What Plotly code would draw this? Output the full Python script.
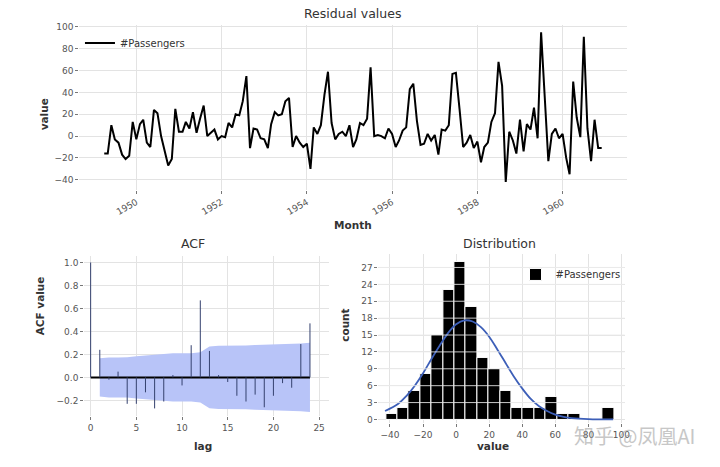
import pandas as pd
import plotly.graph_objects as go

# residuals of the airline passengers model, monthly from Apr 1949
residual = [
    -16, -16, 10, -3, -6, -17, -21, -18, 13, -3, 11, 15, -6, -10, 24, 21, 0, -13, -27, -21,
    25, 4, 4, 13, 7, 22, 3, 16, 28, 0, 3, 6, -3, 0, -1, 12, 8, 20, 19, 32,
    55, -11, 7, 6, -2, -3, -11, 11, 22, 19, 20, 32, 35, -10, 0, -6, -10, -7, -30, 8,
    2, 10, 38, 59, 12, -3, 2, 4, 0, 10, -10, -3, 12, 10, 16, 63, 0, 1, 0, -2,
    7, 2, -10, -4, 5, 8, 43, 48, 14, -8, -7, 2, -4, 1, -17, 6, 5, 10, 57, 58,
    25, -10, -6, 1, -11, -5, -24, -10, -6, 13, 21, 68, 46, -42, 4, -4, -16, 15, -14, 11,
    6, 26, -2, 95, 36, -23, 2, 7, -2, 2, -20, -35, 50, 17, -1, 91, 7, -23, 15, -11,
    -11,
]
months = pd.date_range("1949-04-01", periods=len(residual), freq="MS")

acf_lags = list(range(25))
acf_values = [1.0, 0.24, -0.02, 0.05, -0.23, -0.23, -0.13, -0.27, -0.21, 0.02, -0.07, 0.28, 0.67,
              0.23, 0.02, -0.04, -0.16, -0.21, -0.15, -0.26, -0.16, -0.05, -0.09, 0.29, 0.47]
conf_lags = list(range(1, 25))
conf_upper = [0.167, 0.174, 0.174, 0.175, 0.183, 0.190, 0.193, 0.203, 0.209, 0.209, 0.210, 0.219,
              0.269, 0.275, 0.275, 0.275, 0.277, 0.282, 0.284, 0.290, 0.293, 0.293, 0.294, 0.301]
conf_lower = [-v for v in conf_upper]

hist_left = [-42.4, -35.5, -28.6, -21.7, -14.8, -7.9, -1.0, 5.9, 12.8, 19.7,
             26.6, 33.5, 40.4, 47.3, 54.2, 61.1, 68.0, 74.9, 81.8, 88.7]
hist_counts = [1, 2, 5, 8, 15, 23, 28, 20, 11, 9, 5, 2, 2, 2, 4, 1, 1, 0, 0, 2]
bin_width = 6.9

fit_x = [-43, -35, -30, -25, -20, -15, -10, -5, 0, 5, 10, 15, 20, 25, 30, 35, 40, 45, 50, 55,
         60, 65, 70, 80, 95]
fit_y = [1.5, 2.8, 4.2, 6.0, 8.2, 10.7, 13.1, 15.3, 16.9, 17.6, 17.4, 16.4, 14.7, 12.4, 10.0,
         7.6, 5.5, 3.7, 2.4, 1.5, 0.87, 0.48, 0.25, 0.06, 0.0]

hist_yticks = list(range(0, 28, 3))

FONT = "DejaVu Sans"
GRID = "#e3e3e3"
TICKFONT = dict(family=FONT, size=9, color="#555555")

fig = go.Figure()

fig.add_trace(go.Scatter(
    x=months, y=residual, mode="lines", name="#Passengers",
    line=dict(color="black", width=2), xaxis="x", yaxis="y", legend="legend",
))

# ACF confidence band
fig.add_trace(go.Scatter(
    x=conf_lags, y=conf_upper, mode="lines", line=dict(width=0, color="#b8c4f8"),
    showlegend=False, xaxis="x2", yaxis="y2", hoverinfo="skip",
))
fig.add_trace(go.Scatter(
    x=conf_lags, y=conf_lower, mode="lines", line=dict(width=0, color="#b8c4f8"),
    fill="tonexty", fillcolor="#b8c4f8", showlegend=False, xaxis="x2", yaxis="y2",
    hoverinfo="skip",
))
# zero line
fig.add_trace(go.Scatter(
    x=[acf_lags[0], acf_lags[-1]], y=[0, 0], mode="lines", line=dict(color="black", width=2),
    showlegend=False, xaxis="x2", yaxis="y2", hoverinfo="skip",
))
# stems
stem_x, stem_y = [], []
for lag, v in zip(acf_lags, acf_values):
    stem_x += [lag, lag, None]
    stem_y += [0, v, None]
fig.add_trace(go.Scatter(
    x=stem_x, y=stem_y, mode="lines", line=dict(color="#34406e", width=1),
    showlegend=False, xaxis="x2", yaxis="y2",
))

fig.add_trace(go.Bar(
    x=hist_left, y=hist_counts, width=bin_width, offset=0, name="#Passengers",
    marker=dict(color="black", line=dict(color="white", width=1)),
    xaxis="x3", yaxis="y3", legend="legend2",
))
fig.add_trace(go.Scatter(
    x=fit_x, y=fit_y, mode="lines", line=dict(color="#3d5fb8", width=1.8, shape="spline"),
    showlegend=False, xaxis="x3", yaxis="y3",
))

# grid drawn over the histogram bars
for t in hist_yticks[1:]:
    fig.add_shape(type="line", xref="x3 domain", yref="y3", x0=0, x1=1, y0=t, y1=t,
                  line=dict(color="rgba(235,235,235,0.85)", width=1), layer="above")

axis_common = dict(showgrid=True, gridcolor=GRID, gridwidth=1, zeroline=False, showline=False,
                   ticks="outside", ticklen=3, tickcolor="#777777", tickfont=TICKFONT)

fig.update_layout(
    width=720, height=467,
    margin=dict(l=0, r=0, t=0, b=0),
    paper_bgcolor="white", plot_bgcolor="white",
    font=dict(family=FONT, color="#333333"),
    bargap=0,
    xaxis=dict(domain=[0.111, 0.878], anchor="y", type="date",
               range=["1948-08-30", "1961-07-05"], tick0="1950-01-01", dtick="M24",
               tickformat="%Y", tickangle=-30, **axis_common),
    yaxis=dict(domain=[0.597, 0.953], anchor="x", range=[-49, 102], dtick=20, **axis_common),
    xaxis2=dict(domain=[0.118, 0.461], anchor="y2", range=[-0.7, 26.1], dtick=5,
                **axis_common),
    yaxis2=dict(domain=[0.108, 0.454], anchor="x2", range=[-0.336, 1.058], dtick=0.2,
                tickformat=".1f", **axis_common),
    xaxis3=dict(domain=[0.530, 0.875], anchor="y3", range=[-47, 102], dtick=20,
                **axis_common),
    yaxis3=dict(domain=[0.092, 0.458], anchor="x3", range=[-0.7, 29.4], tickvals=hist_yticks,
                **axis_common),
    legend=dict(x=0.112, y=0.945, xanchor="left", yanchor="top", bgcolor="rgba(0,0,0,0)",
                font=dict(family=FONT, size=10, color="#333333")),
    legend2=dict(x=0.722, y=0.445, xanchor="left", yanchor="top", bgcolor="rgba(0,0,0,0)",
                 font=dict(family=FONT, size=10, color="#333333")),
)

ann = [
    ("Residual values", 0.494, 11, 12.5, 0),
    ("ACF", 0.271, 243, 12.5, 0),
    ("Distribution", 0.699, 243, 12.5, 0),
    ("<b>Month</b>", 0.494, 224, 10.5, 0),
    ("<b>value</b>", 0.062, 112, 10.5, -90),
    ("<b>ACF value</b>", 0.056, 305, 10.5, -90),
    ("<b>lag</b>", 0.285, 447, 10.5, 0),
    ("<b>count</b>", 0.484, 325, 10.5, -90),
    ("<b>value</b>", 0.690, 447, 10.5, 0),
]
for text, x, ypx, size, angle in ann:
    fig.add_annotation(text=text, x=x, y=1 - ypx / 467, xref="paper", yref="paper",
                       showarrow=False, textangle=angle, xanchor="center", yanchor="middle",
                       font=dict(family=FONT, size=size, color="#333333"))

fig.add_annotation(text="知乎 @凤凰AI", x=0.888, y=1 - 436 / 467, xref="paper", yref="paper",
                   showarrow=False, opacity=0.55, xanchor="center", yanchor="middle",
                   font=dict(family="Noto Sans CJK SC", size=20, color="#9a9a9a"))

fig.write_html("out.html", config={"displayModeBar": False},
               post_script="document.body.style.margin='0';")
